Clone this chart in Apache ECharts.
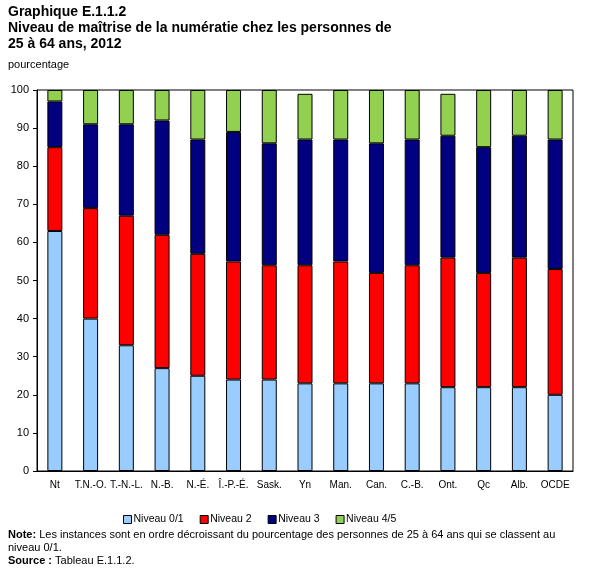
<!DOCTYPE html>
<html><head><meta charset="utf-8">
<script src="https://cdn.jsdelivr.net/npm/echarts@6/dist/echarts.min.js"></script>
<style>html,body{margin:0;padding:0;background:#fff}#c{width:607px;height:570px}</style>
</head><body><div id="c"></div>
<script>
const categories = ['Nt','T.N.-O.','T.-N.-L.','N.-B.','N.-É.','Î.-P.-É.','Sask.','Yn','Man.','Can.','C.-B.','Ont.','Qc','Alb.','OCDE'];
const niveau01 = [63,40,33,27,25,24,24,23,23,23,23,22,22,22,20];
const niveau2  = [22,29,34,35,32,31,30,31,32,29,31,34,30,34,33];
const niveau3  = [12,22,24,30,30,34,32,33,32,34,33,32,33,32,34];
const niveau45 = [3,9,9,8,13,11,14,12,13,14,13,11,15,12,13];
const yTicks = [0,10,20,30,40,50,60,70,80,90,100];

const F = '"Liberation Sans", Arial, sans-serif';
const chart = echarts.init(document.getElementById('c'), null, {renderer:'canvas'});
function s(name, data, color){
  return {name, type:'bar', stack:'t', data, barWidth:15,
    itemStyle:{color, borderColor:'#000', borderWidth:1}};
}
chart.setOption({
  animation:false,
  textStyle:{fontFamily:F},
  title:[
    {text:'Graphique E.1.1.2\nNiveau de maîtrise de la numératie chez les personnes de\n25 à 64 ans, 2012',
     left:3, top:-1, textStyle:{fontFamily:F, fontSize:14, fontWeight:'bold', color:'#000', lineHeight:16}},
    {text:'pourcentage', left:3, top:54, textStyle:{fontFamily:F, fontSize:11, fontWeight:'normal', color:'#000'}},
    {text:'{b|Note:} Les instances sont en ordre décroissant du pourcentage des personnes de 25 à 64 ans qui se classent au\nniveau 0/1.\n{b|Source :} Tableau E.1.1.2.',
     left:3, top:523, textStyle:{fontFamily:F, fontSize:11, fontWeight:'normal', color:'#000', lineHeight:13,
       rich:{b:{fontFamily:F, fontSize:11, fontWeight:'bold', color:'#000'}}}}
  ],
  legend:{top:509, left:118, icon:'rect', itemWidth:8, itemHeight:8, itemGap:16,
    textStyle:{fontFamily:F, fontSize:10.5, color:'#000', padding:[0,0,0,-3]},
    itemStyle:{borderColor:'#000', borderWidth:1},
    data:['Niveau 0/1','Niveau 2','Niveau 3','Niveau 4/5']},
  grid:{left:37, right:34, top:90, bottom:99, show:true, borderColor:'#000', borderWidth:1},
  xAxis:{type:'category', data:categories,
    axisLine:{lineStyle:{color:'#000'}},
    axisTick:{inside:true, length:4, lineStyle:{color:'#000'}},
    axisLabel:{interval:0, fontFamily:F, fontSize:10, color:'#000', margin:9}},
  yAxis:{type:'value', min:0, max:100, interval:10,
    axisLine:{show:true, lineStyle:{color:'#000'}},
    axisTick:{show:true, length:4, lineStyle:{color:'#000'}},
    splitLine:{show:false},
    axisLabel:{fontFamily:F, fontSize:11, color:'#000', margin:8,
      formatter:v=>yTicks.includes(v)?String(v):''}},
  series:[
    s('Niveau 0/1', niveau01, '#99CCFF'),
    s('Niveau 2', niveau2, '#FF0000'),
    s('Niveau 3', niveau3, '#000080'),
    s('Niveau 4/5', niveau45, '#92D050')
  ]
});
</script></body></html>
